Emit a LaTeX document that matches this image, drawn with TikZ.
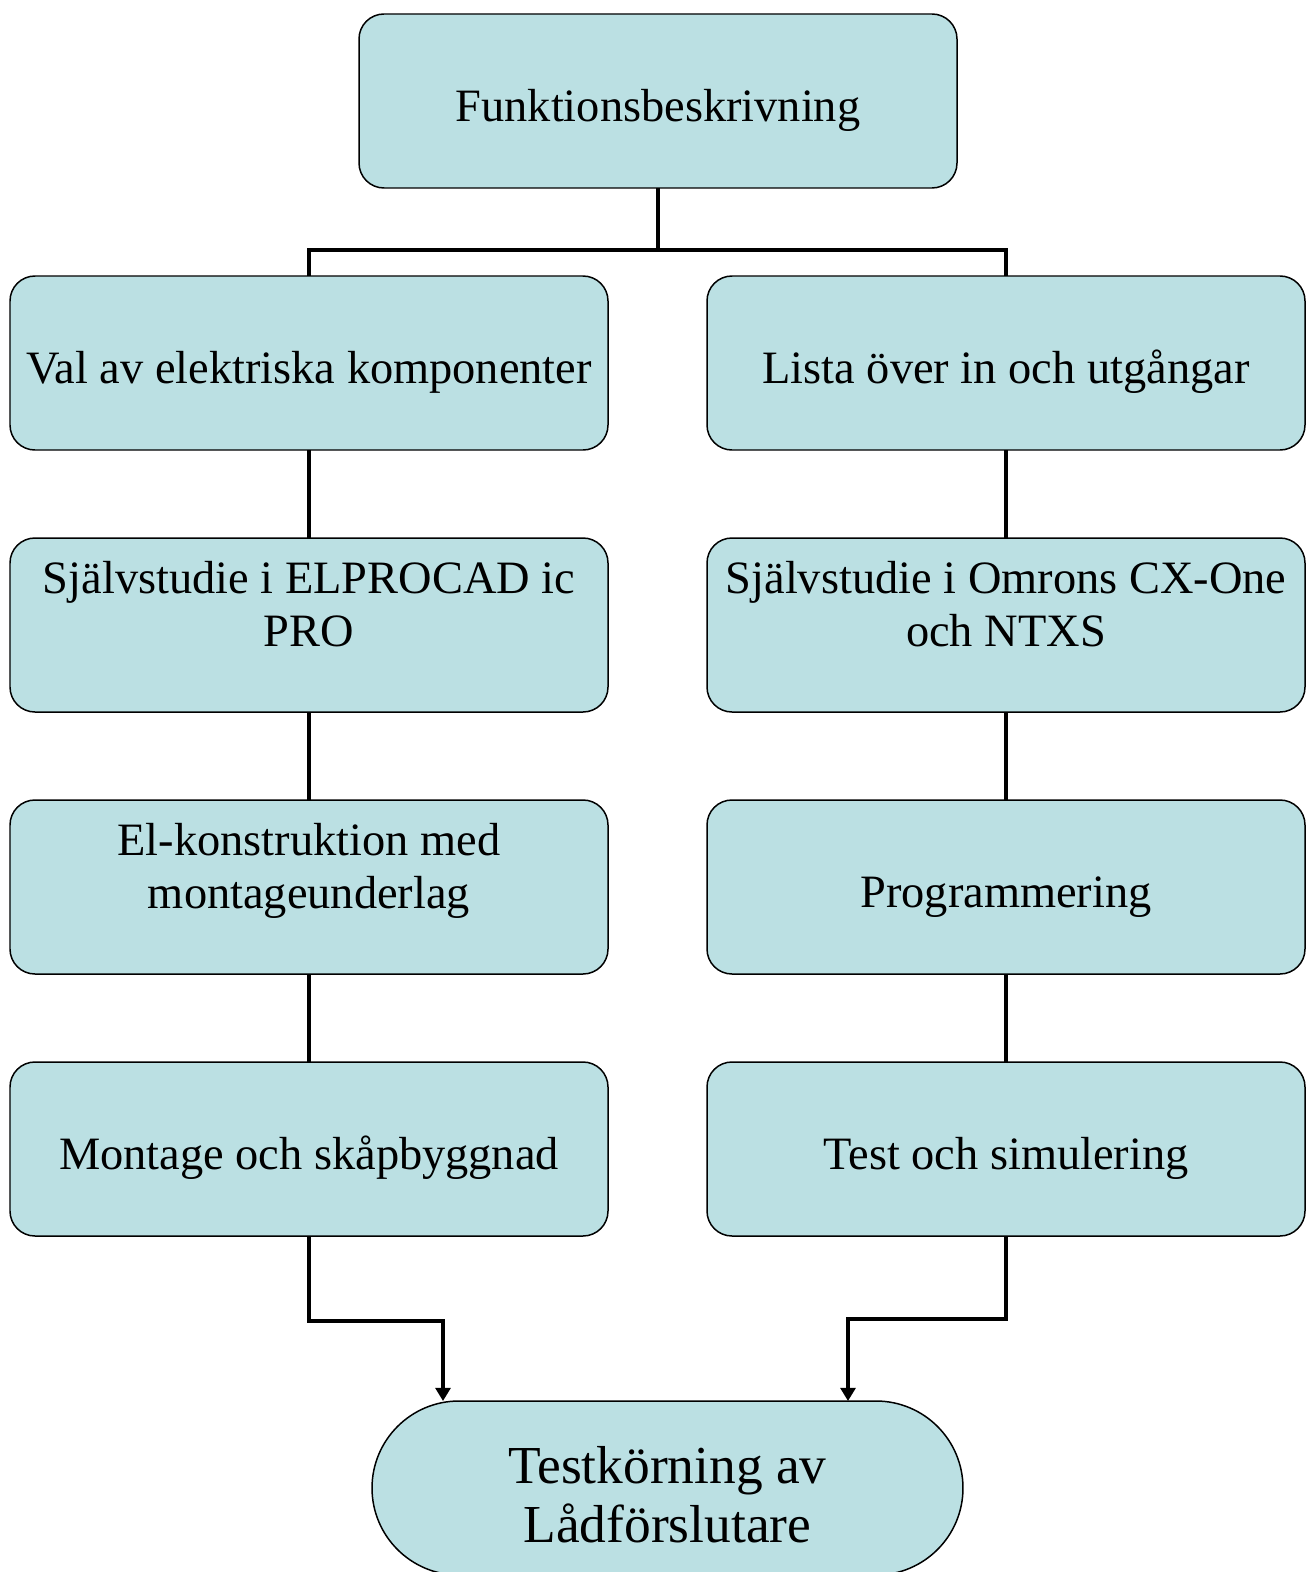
\documentclass[tikz,border=0pt]{standalone}
\usepackage{fontspec}
\setmainfont{Liberation Serif}
\usetikzlibrary{arrows.meta,positioning,shapes.misc}
\definecolor{ljusbla}{RGB}{187,224,227}

\begin{document}
\begin{tikzpicture}[
  stegbox/.style={draw, fill=ljusbla, line width=0.85pt, rounded corners=0.5cm,
    minimum width=11.96cm, minimum height=3.48cm, inner sep=2pt, outer sep=0pt,
    align=center, font=\fontsize{26.4}{30.6}\selectfont},
  ettrad/.style={text height=23.7pt, text depth=0pt},
  tvarad/.style={text depth=24pt},
  slutbox/.style={stegbox, sharp corners, rounded rectangle, text height=62.5pt,
    text depth=0pt, font=\fontsize{30.4}{34}\selectfont},
  linje/.style={line width=2.6pt},
  pil/.style={linje, -{Triangle[length=7.5pt,width=8.5pt]}},
  node distance=1.76cm]
\useasboundingbox (0,0) rectangle (26.18,-31.44);

\node[stegbox, ettrad] (funk) at (13.16,-2.02) {Funktionsbeskrivning};

% vanster gren
\node[stegbox, ettrad] (val) at (6.18,-7.26) {Val av elektriska komponenter};
\node[stegbox, tvarad, below=of val] (elpro) {Självstudie i ELPROCAD ic\\PRO};
\node[stegbox, tvarad, below=of elpro] (elkon) {El-konstruktion med\\montageunderlag};
\node[stegbox, ettrad, below=of elkon] (montage) {Montage och skåpbyggnad};

% hoger gren
\node[stegbox, ettrad] (lista) at (20.12,-7.26) {Lista över in och utgångar};
\node[stegbox, tvarad, below=of lista] (omron) {Självstudie i Omrons CX-One\\och NTXS};
\node[stegbox, ettrad, below=of omron] (prog) {Programmering};
\node[stegbox, ettrad, below=of prog] (sim) {Test och simulering};

\node[slutbox] (test) at (13.35,-29.76) {Testkörning av\\Lådförslutare};

\draw[linje] (funk.south) -- ++(0,-1.24) coordinate (delning) -| (val.north);
\draw[linje] (delning) -| (lista.north);
\draw[linje] (val) -- (elpro);
\draw[linje] (elpro) -- (elkon);
\draw[linje] (elkon) -- (montage);
\draw[linje] (lista) -- (omron);
\draw[linje] (omron) -- (prog);
\draw[linje] (prog) -- (sim);
\draw[pil] (montage.south) -- ++(0,-1.7) -| ([xshift=-4.49cm]test.north);
\draw[pil] (sim.south) -- ++(0,-1.66) -| ([xshift=3.61cm]test.north);
\end{tikzpicture}
\end{document}
